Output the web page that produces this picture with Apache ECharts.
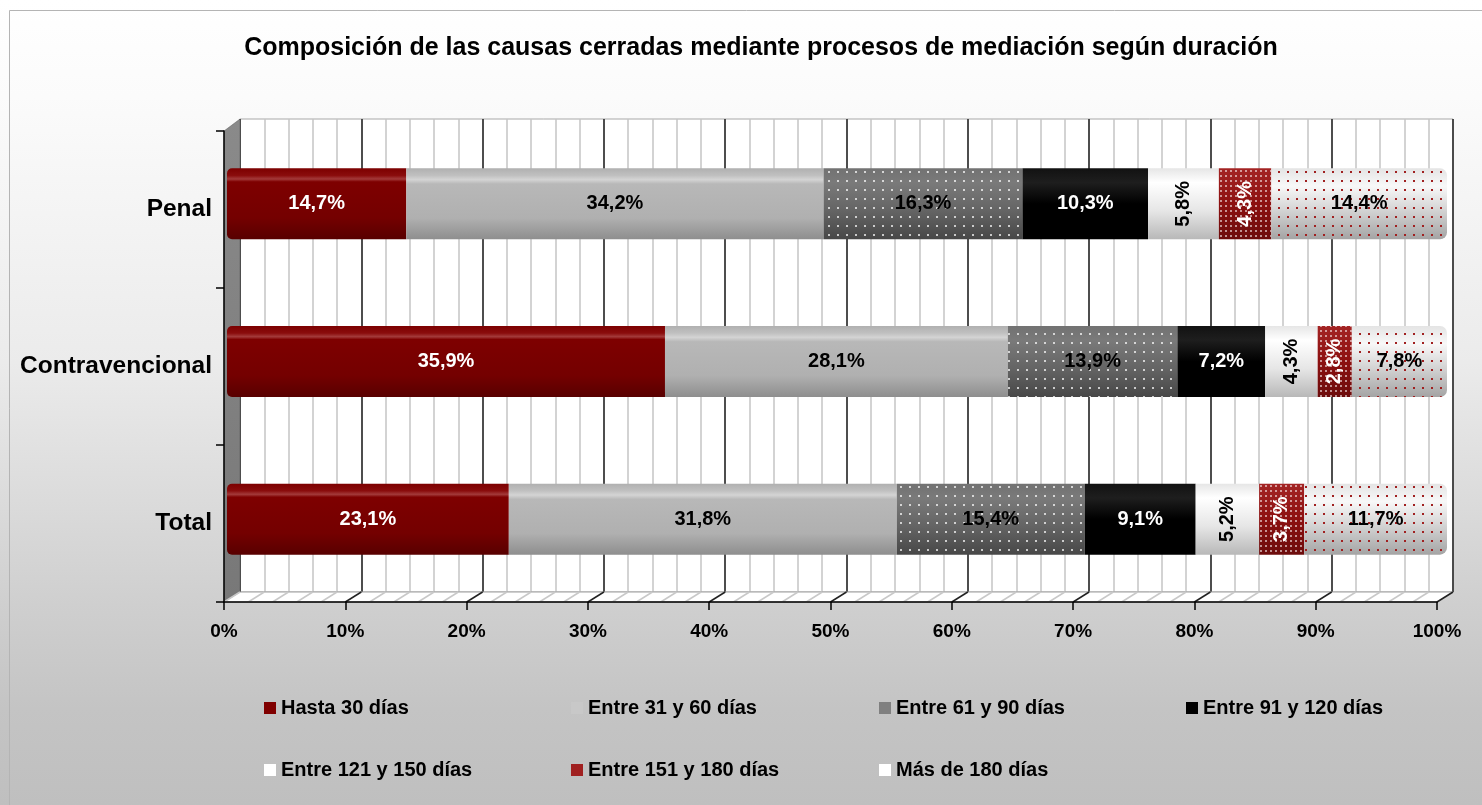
<!DOCTYPE html>
<html>
<head>
<meta charset="utf-8">
<script src="https://cdn.jsdelivr.net/npm/echarts@6/dist/echarts.min.js"></script>
<style>
  html, body { margin: 0; padding: 0; background: #fff; }
  #chart { width: 1482px; height: 805px; }
</style>
</head>
<body>
<div id="chart"></div>
<script>
// datos (porcentajes por duracion)
var categorias = ['Penal', 'Contravencional', 'Total'];
var hasta30 = [14.7, 35.9, 23.1];
var de31a60 = [34.2, 28.1, 31.8];
var de61a90 = [16.3, 13.9, 15.4];
var de91a120 = [10.3, 7.2, 9.1];
var de121a150 = [5.8, 4.3, 5.2];
var de151a180 = [4.3, 2.8, 3.7];
var mas180 = [14.4, 7.8, 11.7];
var nombres = ['Hasta 30 días', 'Entre 31 y 60 días', 'Entre 61 y 90 días', 'Entre 91 y 120 días',
               'Entre 121 y 150 días', 'Entre 151 y 180 días', 'Más de 180 días'];

var FONT = "'Liberation Sans', Arial, sans-serif";

// caja del grafico (pared del fondo, eje frontal, barras)
var BACK = { left: 240, top: 119, width: 1213, height: 473 };
var FRONT = { left: 224, top: 131, width: 1213, height: 471 };
var BARS = { left: 227, top: 125, width: 1220, height: 473 };

function cyl(stops) {
    return {
        type: 'linear', x: 0, y: 0, x2: 0, y2: 1,
        colorStops: stops.map(function (s) { return { offset: s[0], color: s[1] }; })
    };
}

var estilos = [
    { color: cyl([[0, '#7c0000'], [0.1, '#8a0c0c'], [0.15, '#a33a3a'], [0.19, '#7e0000'], [0.7, '#740000'], [1, '#580000']]), label: '#fff', rot: 0, leg: '#800000' },
    { color: cyl([[0, '#b0b0b0'], [0.1, '#c0c0c0'], [0.16, '#d4d4d4'], [0.22, '#b8b8b8'], [0.7, '#b0b0b0'], [1, '#8e8e8e']]), label: '#000', rot: 0, leg: '#c8c8c8' },
    { color: cyl([[0, '#727272'], [0.2, '#7a7a7a'], [0.6, '#646464'], [1, '#474747']]), label: '#000', rot: 0, leg: '#808080',
      decal: { symbol: 'rect', symbolSize: 1, color: 'rgba(255,255,255,0.7)', dashArrayX: [2, 7], dashArrayY: [2, 7] } },
    { color: cyl([[0, '#121212'], [0.2, '#1e1e1e'], [0.5, '#000'], [1, '#000']]), label: '#fff', rot: 0, leg: '#000' },
    { color: cyl([[0, '#e6e6e6'], [0.2, '#ffffff'], [0.6, '#e6e6e6'], [1, '#b8b8b8']]), label: '#000', rot: 90, leg: '#fff' },
    { color: cyl([[0, '#a42424'], [0.5, '#8c1010'], [1, '#6c0c0c']]), label: '#fff', rot: 90, leg: '#a02020',
      decal: { symbol: 'rect', symbolSize: 1, color: 'rgba(255,255,255,0.55)', dashArrayX: [1.5, 2.5], dashArrayY: [1.5, 2.5] } },
    { color: cyl([[0, '#e4e4e4'], [0.25, '#f8f8f8'], [0.55, '#d8d8d8'], [1, '#a4a4a4']]), label: '#000', rot: 0, leg: '#fff',
      decal: { symbol: 'rect', symbolSize: 1, color: '#a02020', dashArrayX: [2, 7], dashArrayY: [2, 7] } }
];
var valores = [hasta30, de31a60, de61a90, de91a120, de121a150, de151a180, mas180];

var series = valores.map(function (vals, i) {
    var st = estilos[i];
    var item = { color: st.color };
    if (st.decal) item.decal = st.decal;
    if (i === 6) item.borderRadius = [0, 7, 7, 0];
    if (i === 0) item.borderRadius = [5, 0, 0, 5];
    return {
        name: nombres[i],
        type: 'bar',
        stack: 'total',
        xAxisIndex: 3,
        yAxisIndex: 2,
        barWidth: 71,
        z: 3,
        itemStyle: item,
        label: {
            show: true,
            position: 'inside',
            rotate: st.rot,
            color: st.label,
            fontFamily: FONT,
            fontWeight: 'bold',
            fontSize: 20,
            formatter: function (p) { return p.value.toFixed(1).replace('.', ',') + '%'; }
        },
        data: vals
    };
});

// leyenda: una por item para alinear columnas
var legPos = [[264, 698], [571, 698], [879, 698], [1186, 698], [264, 760], [571, 760], [879, 760]];
var legends = nombres.map(function (n, i) {
    var it = { name: n, itemStyle: { color: estilos[i].leg, decal: 'none', borderWidth: 0 } };
    return {
        left: legPos[i][0], top: legPos[i][1],
        itemWidth: 12, itemHeight: 12, icon: 'rect',
        itemGap: 0, padding: 0,
        selectedMode: false,
        textStyle: { fontFamily: FONT, fontWeight: 'bold', fontSize: 20, color: '#000', padding: [0, 0, 0, 0] },
        data: [it]
    };
});

// decoracion 3D: pared izquierda y piso
var graficos = [
    { type: 'rect', silent: true, z: -10, shape: { x: 9.5, y: 10.5, width: 1500, height: 820 },
      style: { fill: null, stroke: '#b4b4b4', lineWidth: 1 } },
    { type: 'polygon', silent: true, z: 1,
      shape: { points: [[FRONT.left, FRONT.top], [BACK.left, BACK.top], [BACK.left, BACK.top + BACK.height], [FRONT.left, FRONT.top + FRONT.height]] },
      style: { fill: cyl([[0, '#8a8a8a'], [1, '#787878']]), stroke: '#555', lineWidth: 0.5 } },
    { type: 'polygon', silent: true, z: 1,
      shape: { points: [[FRONT.left, FRONT.top + FRONT.height], [BACK.left, BACK.top + BACK.height],
                        [BACK.left + BACK.width, BACK.top + BACK.height], [FRONT.left + FRONT.width, FRONT.top + FRONT.height]] },
      style: { fill: '#fff', stroke: '#a0a0a0', lineWidth: 1 } }
];
for (var k = 0; k <= 50; k++) {
    var bx = BACK.left + BACK.width * k / 50;
    var fx = FRONT.left + FRONT.width * k / 50;
    graficos.push({
        type: 'line', silent: true, z: 1,
        shape: { x1: bx, y1: BACK.top + BACK.height, x2: fx, y2: FRONT.top + FRONT.height },
        style: { stroke: (k % 5 === 0 && k > 0) ? '#222' : '#c8c8c8', lineWidth: 1.5 }
    });
}

var option = {
    animation: false,
    backgroundColor: cyl([[0, '#ffffff'], [0.12, '#fbfbfb'], [0.45, '#ebebeb'], [0.75, '#cfcfcf'], [0.88, '#c4c4c4'], [1, '#bfbfbf']]),
    title: {
        text: 'Composición de las causas cerradas mediante procesos de mediación según duración',
        left: 756, top: 31, textAlign: 'center',
        textStyle: { fontFamily: FONT, fontWeight: 'bold', fontSize: 25, color: '#000' }
    },
    legend: legends,
    graphic: graficos,
    grid: [
        { left: BACK.left, top: BACK.top, width: BACK.width, height: BACK.height, show: true, backgroundColor: '#fff', borderColor: '#a8a8a8', borderWidth: 1, z: 0 },
        { left: FRONT.left, top: FRONT.top, width: FRONT.width, height: FRONT.height },
        { left: BARS.left, top: BARS.top, width: BARS.width, height: BARS.height }
    ],
    xAxis: [
        { gridIndex: 0, type: 'value', min: 0, max: 100, interval: 2, axisLabel: { show: false }, axisLine: { show: false }, axisTick: { show: false },
          splitLine: { show: true, lineStyle: { color: '#c4c4c4', width: 1.5 } } },
        { gridIndex: 0, type: 'value', min: 0, max: 100, interval: 10, axisLabel: { show: false }, axisLine: { show: false }, axisTick: { show: false },
          splitLine: { show: true, lineStyle: { color: '#222', width: 1.5 } } },
        { gridIndex: 1, type: 'value', min: 0, max: 100, interval: 10, position: 'bottom', z: 5,
          axisLine: { show: true, lineStyle: { color: '#000', width: 1.5 } },
          axisTick: { show: true, length: 8, lineStyle: { color: '#000', width: 1.5 } },
          axisLabel: { formatter: '{value}%', margin: 20, fontFamily: FONT, fontWeight: 'bold', fontSize: 19, color: '#000' },
          splitLine: { show: false } },
        { gridIndex: 2, type: 'value', min: 0, max: 100, show: false }
    ],
    yAxis: [
        { gridIndex: 0, type: 'value', show: false },
        { gridIndex: 1, type: 'category', inverse: true, data: categorias, z: 5,
          axisLine: { show: true, lineStyle: { color: '#000', width: 1.5 } },
          axisTick: { show: true, length: 8, lineStyle: { color: '#000', width: 1.5 } },
          axisLabel: { margin: 12, fontFamily: FONT, fontWeight: 'bold', fontSize: 24.5, color: '#000' } },
        { gridIndex: 2, type: 'category', inverse: true, data: categorias, show: false }
    ],
    series: series
};

var chart = echarts.init(document.getElementById('chart'));
chart.setOption(option);
</script>
</body>
</html>
